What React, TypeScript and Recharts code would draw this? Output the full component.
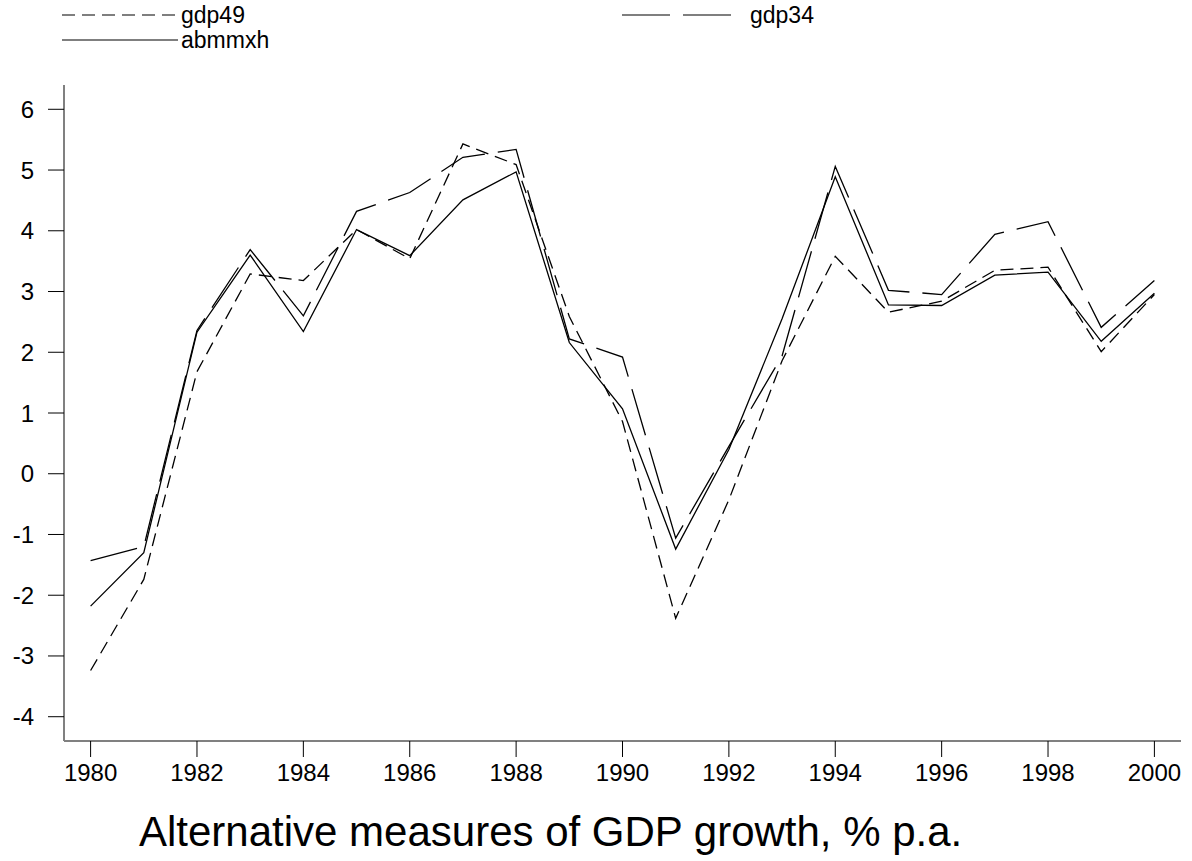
import React from "react";
import { LineChart, Line, XAxis, YAxis } from "recharts";

const years = [
  1980, 1981, 1982, 1983, 1984, 1985, 1986, 1987, 1988, 1989, 1990, 1991, 1992,
  1993, 1994, 1995, 1996, 1997, 1998, 1999, 2000,
];

const gdp49 = [
  -3.24, -1.74, 1.68, 3.29, 3.18, 4.02, 3.54, 5.43, 5.09, 2.59, 0.86, -2.38,
  -0.43, 1.86, 3.58, 2.66, 2.84, 3.35, 3.4, 2.01, 2.95,
];

const gdp34 = [
  -1.43, -1.2, 2.36, 3.69, 2.6, 4.32, 4.63, 5.21, 5.34, 2.22, 1.92, -1.06,
  0.45, 1.94, 5.06, 3.02, 2.95, 3.94, 4.15, 2.41, 3.18,
];

const abmmxh = [
  -2.18, -1.3, 2.33, 3.6, 2.34, 4.02, 3.59, 4.51, 4.97, 2.16, 1.07, -1.24,
  0.4, 2.55, 4.89, 2.78, 2.77, 3.27, 3.32, 2.18, 2.97,
];

const xTicks = [1980, 1982, 1984, 1986, 1988, 1990, 1992, 1994, 1996, 1998, 2000];
const yTicks = [-4, -3, -2, -1, 0, 1, 2, 3, 4, 5, 6];

const title = "Alternative measures of GDP growth, % p.a.";

const FONT = '"Liberation Sans", Arial, Helvetica, sans-serif';

const series = [
  { key: "gdp49", dash: "13 7" },
  { key: "gdp34", dash: "48 13" },
  { key: "abmmxh", dash: undefined as string | undefined },
];

// legend placement (left end of sample line, row centre)
const legendSpots = [
  { x: 62, y: 15 },
  { x: 622, y: 15 },
  { x: 62, y: 40 },
];

const data = years.map((year, i) => ({
  year,
  gdp49: gdp49[i],
  gdp34: gdp34[i],
  abmmxh: abmmxh[i],
}));

function LegendBox() {
  return (
    <svg
      width={1192}
      height={60}
      style={{ position: "absolute", left: 0, top: 0 }}
    >
      {series.map((s, i) => {
        const p = legendSpots[i];
        const lineEnd = s.key === "gdp34" ? p.x + 113 : p.x + 116;
        const textX = s.key === "gdp34" ? p.x + 128 : p.x + 119;
        return (
          <g key={s.key}>
            <line
              x1={p.x}
              x2={lineEnd}
              y1={p.y}
              y2={p.y}
              stroke="#000"
              strokeWidth={1.2}
              strokeDasharray={s.dash}
            />
            <text
              x={textX}
              y={p.y + 8}
              fontFamily={FONT}
              fontSize={23}
              fill="#000"
            >
              {s.key}
            </text>
          </g>
        );
      })}
    </svg>
  );
}

export default function App() {
  return (
    <div
      style={{
        position: "absolute",
        left: 0,
        top: 0,
        width: 1192,
        height: 861,
        background: "#fff",
        fontFamily: FONT,
      }}
    >
      <LineChart
        width={1192}
        height={861}
        data={data}
        margin={{ top: 85, right: 11, left: 0, bottom: 80 }}
      >
        <XAxis
          dataKey="year"
          type="number"
          domain={[1979.5, 2000.5]}
          ticks={xTicks}
          allowDataOverflow
          height={40}
          tickSize={16}
          tickMargin={7}
          axisLine={{ stroke: "#808080", strokeWidth: 2 }}
          tickLine={{ stroke: "#000", strokeWidth: 1 }}
          tick={{ fill: "#000", fontSize: 24, fontFamily: FONT }}
        />
        <YAxis
          type="number"
          domain={[-4.4, 6.4]}
          ticks={yTicks}
          allowDataOverflow
          width={64}
          tickSize={16}
          tickMargin={14}
          axisLine={{ stroke: "#808080", strokeWidth: 2 }}
          tickLine={{ stroke: "#000", strokeWidth: 1 }}
          tick={{ fill: "#000", fontSize: 24, fontFamily: FONT }}
        />
        {series.map((s) => (
          <Line
            key={s.key}
            type="linear"
            dataKey={s.key}
            stroke="#000"
            strokeWidth={1.3}
            strokeDasharray={s.dash}
            dot={false}
            activeDot={false}
            isAnimationActive={false}
          />
        ))}
      </LineChart>
      <LegendBox />
      <div
        style={{
          position: "absolute",
          left: 139,
          top: 808,
          fontSize: 42,
          fontFamily: FONT,
          color: "#000",
          whiteSpace: "nowrap",
          lineHeight: "48px",
        }}
      >
        {title}
      </div>
    </div>
  );
}
